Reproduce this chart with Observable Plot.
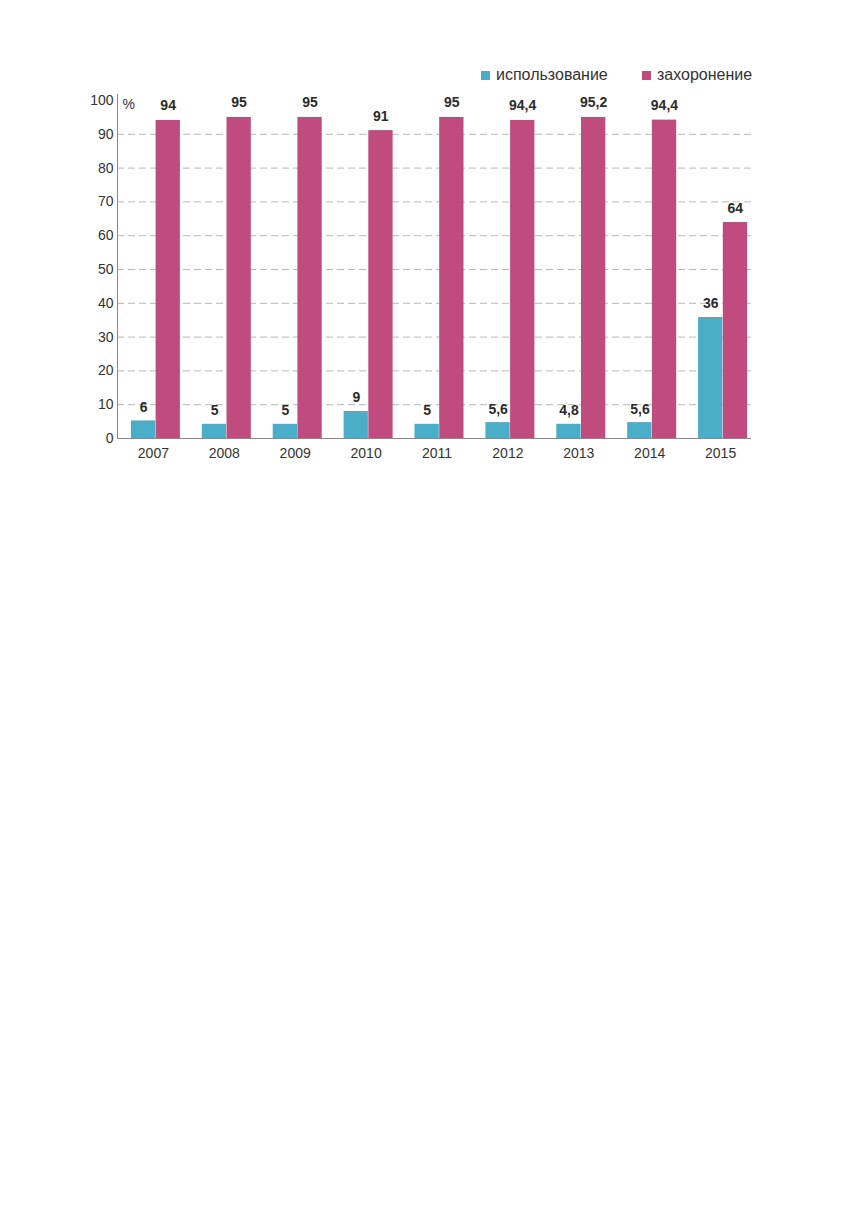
<!DOCTYPE html>
<html>
<head>
<meta charset="utf-8">
<script src="https://cdn.jsdelivr.net/npm/d3@7"></script>
<script src="https://cdn.jsdelivr.net/npm/@observablehq/plot@0.6"></script>
<style>
  body { margin: 0; background: #fff; font-family: "Liberation Sans", Arial, sans-serif; }
  #wrap { position: relative; width: 856px; height: 1227px; }
  #legend { position: absolute; top: 64px; left: 0; width: 856px; height: 24px; font-size: 16px; color: #333; }
  .item { position: absolute; top: 0; display: flex; align-items: center; height: 22px; }
  .sw { width: 9px; height: 9px; margin-right: 6px; }
  svg { position: absolute; top: 0; left: 0; }
</style>
</head>
<body>
<div id="wrap">
  <div id="chart"></div>
  <div id="legend"></div>
</div>
<script>
const years = ["2007", "2008", "2009", "2010", "2011", "2012", "2013", "2014", "2015"];
const seriesNames = ["использование", "захоронение"];
const seriesColors = ["#4aaec8", "#c04b7e"];
// bar heights as drawn in the picture
const usageBar = [5.2, 4.2, 4.2, 8.0, 4.2, 4.7, 4.2, 4.7, 35.8];
const usageLabel = ["6", "5", "5", "9", "5", "5,6", "4,8", "5,6", "36"];
const burialBar = [94.1, 95, 95, 91.1, 95, 94.1, 95, 94.2, 63.9];
const burialLabel = ["94", "95", "95", "91", "95", "94,4", "95,2", "94,4", "64"];
const yTicks = [0, 10, 20, 30, 40, 50, 60, 70, 80, 90, 100];

const usage = years.map((y, i) => ({year: y, value: usageBar[i], label: usageLabel[i]}));
const burial = years.map((y, i) => ({year: y, value: burialBar[i], label: burialLabel[i]}));

const W = 856, H = 470, ML = 117, MR = 105, MT = 100, MB = 32;
const half = 24.5;

const plot = Plot.plot({
  width: W, height: H,
  marginLeft: ML, marginRight: MR, marginTop: MT, marginBottom: MB,
  style: {fontFamily: "'Liberation Sans', Arial, sans-serif", color: "#333", background: "#fff"},
  x: {type: "band", domain: years, range: [109, 769], padding: 0.309, round: false, label: null},
  y: {type: "linear", domain: [0, 100], label: null},
  marks: [
    Plot.ruleY(yTicks.filter(d => d > 0 && d < 100), {stroke: "#b8b8b8", strokeDasharray: "7,4", strokeWidth: 1}),
    Plot.barY(usage, {x: "year", y: "value", fill: seriesColors[0], insetRight: half + 0.2}),
    Plot.barY(burial, {x: "year", y: "value", fill: seriesColors[1], insetLeft: half + 0.2}),
    Plot.text(usage, {x: "year", y: "value", text: "label", dx: -half / 2, dy: -9, lineAnchor: "bottom", fontWeight: "bold", fontSize: 14, fill: "#2b2b2b"}),
    Plot.text(burial, {x: "year", y: "value", text: "label", dx: half / 2, dy: -10, lineAnchor: "bottom", fontWeight: "bold", fontSize: 14, fill: "#2b2b2b"}),
    Plot.axisY({ticks: yTicks, tickSize: 0, tickPadding: 4, fontSize: 14, fill: "#333", label: null}),
    Plot.axisX({tickSize: 0, tickPadding: 10, dx: -2.5, fontSize: 14, fill: "#333", label: null}),
    Plot.frame({anchor: "left", stroke: "#888", insetTop: -6}),
    Plot.ruleY([0], {stroke: "#888"}),
    Plot.text(["%"], {frameAnchor: "top-left", dx: 5, dy: -1, textAnchor: "start", fontSize: 14, fill: "#333"})
  ]
});
document.getElementById("chart").appendChild(plot);

const legend = document.getElementById("legend");
const lx = [481, 642];
seriesNames.forEach((name, i) => {
  const it = document.createElement("div");
  it.className = "item";
  it.style.left = lx[i] + "px";
  it.innerHTML = `<span class="sw" style="background:${seriesColors[i]}"></span><span>${name}</span>`;
  legend.appendChild(it);
});
</script>
</body>
</html>
